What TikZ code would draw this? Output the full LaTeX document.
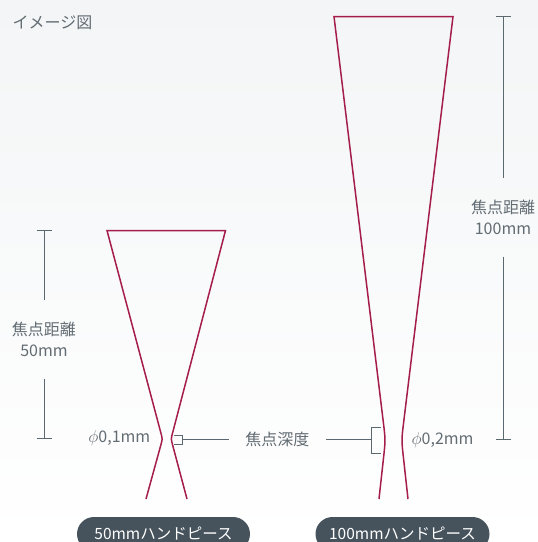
\documentclass[tikz,border=0pt]{standalone}
\usepackage{fontspec}
\setmainfont{Noto Sans CJK JP}
\usetikzlibrary{calc}
\usetikzlibrary{positioning}
\definecolor{beamred}{RGB}{165,30,75}
\definecolor{dimgray}{RGB}{92,104,112}
\definecolor{textgray}{RGB}{98,108,115}
\definecolor{pillgray}{RGB}{70,83,92}
\definecolor{bgtop}{RGB}{243,245,246}
\newcommand\diam{{\fontsize{19}{21}\selectfont$\phi$}}

\begin{document}
\begin{tikzpicture}[x=1pt,y=-1pt,
  beam/.style={beamred,line width=1.5pt},
  dimline/.style={dimgray,line width=0.9pt},
  txt/.style={text=textgray,font=\fontsize{16}{21.5}\selectfont,inner sep=0pt},
  distlabel/.style={txt,align=center,minimum height=78pt},
  pill/.style={fill=pillgray,text=white,rounded corners=17pt,minimum height=34pt,inner sep=0pt,font=\fontsize{15.5}{18}\selectfont}]

% background
\shade[top color=bgtop,bottom color=white] (0,0) rectangle (538,542);
\useasboundingbox (0,0) rectangle (538,542);
\clip (0,0) rectangle (538,542);

\node[txt,anchor=west] (title) at (12.5,22.5) {イメージ図};

% 50mm beam
\coordinate (t50l) at (107,230.5);
\coordinate (t50r) at (225.5,230.5);
\coordinate (w50l) at (162.5,439);
\coordinate (w50r) at (171,439);
\coordinate (e50l) at (146,499);
\coordinate (e50r) at (187,499);
\draw[beam] (e50l) -- ($(w50l)!6pt!(e50l)$) .. controls (w50l) .. ($(w50l)!6pt!(t50l)$) -- (t50l)
  -- (t50r) -- ($(w50r)!6pt!(t50r)$) .. controls (w50r) .. ($(w50r)!6pt!(e50r)$) -- (e50r);

% 100mm beam
\coordinate (t100l) at (334,16.5);
\coordinate (t100r) at (453,16.5);
\coordinate (w100l) at (385.5,440);
\coordinate (w100r) at (401.5,440);
\coordinate (e100l) at (379,499);
\coordinate (e100r) at (408,499);
\draw[beam] (e100l) -- ($(w100l)!18pt!(e100l)$) .. controls (w100l) .. ($(w100l)!18pt!(t100l)$) -- (t100l)
  -- (t100r) -- ($(w100r)!18pt!(t100r)$) .. controls (w100r) .. ($(w100r)!18pt!(e100r)$) -- (e100r);

% focal distance 50mm
\coordinate (d50top) at (44,230.5);
\coordinate (d50bot) at (44,438.5);
\node[distlabel] (d50) at (44,339.5) {焦点距離\\50mm};
\draw[dimline] ([xshift=-7.5pt]d50top) -- ([xshift=7.5pt]d50top);
\draw[dimline] ([xshift=-7.5pt]d50bot) -- ([xshift=7.5pt]d50bot);
\draw[dimline] (d50top) -- (d50.north);
\draw[dimline] (d50.south) -- (d50bot);

% focal distance 100mm
\coordinate (d100top) at (503,16.5);
\coordinate (d100bot) at (503,439.5);
\node[distlabel] (d100) at (503,217.5) {焦点距離\\100mm};
\draw[dimline] ([xshift=-7.5pt]d100top) -- ([xshift=7.5pt]d100top);
\draw[dimline] ([xshift=-7.5pt]d100bot) -- ([xshift=7.5pt]d100bot);
\draw[dimline] (d100top) -- (d100.north);
\draw[dimline] (d100.south) -- (d100bot);

% spot diameters
\node[txt,anchor=east] (diam50) at (150.5,438.5) {\diam0,1mm};
\node[txt,anchor=west] (diam100) at (411.5,440) {\diam0,2mm};

% depth of focus
\node[txt,inner xsep=16.5pt] (depth) at (277.3,439.5) {焦点深度};
\coordinate (b50) at (182.5,439.5);
\coordinate (b100) at (371.5,439.5);
\draw[dimline] (174,435) -- (182.5,435) -- (182.5,444) -- (174,444);
\draw[dimline] (380.5,427) -- (371.5,427) -- (371.5,453) -- (380.5,453);
\draw[dimline] (b50) -- (depth.west);
\draw[dimline] (depth.east) -- (b100);

% handpiece tags
\node[pill,minimum width=173pt] (hp50) at (163.5,534) {50mmハンドピース};
\node[pill,minimum width=174pt] (hp100) at (402.5,534) {100mmハンドピース};
\end{tikzpicture}
\end{document}
